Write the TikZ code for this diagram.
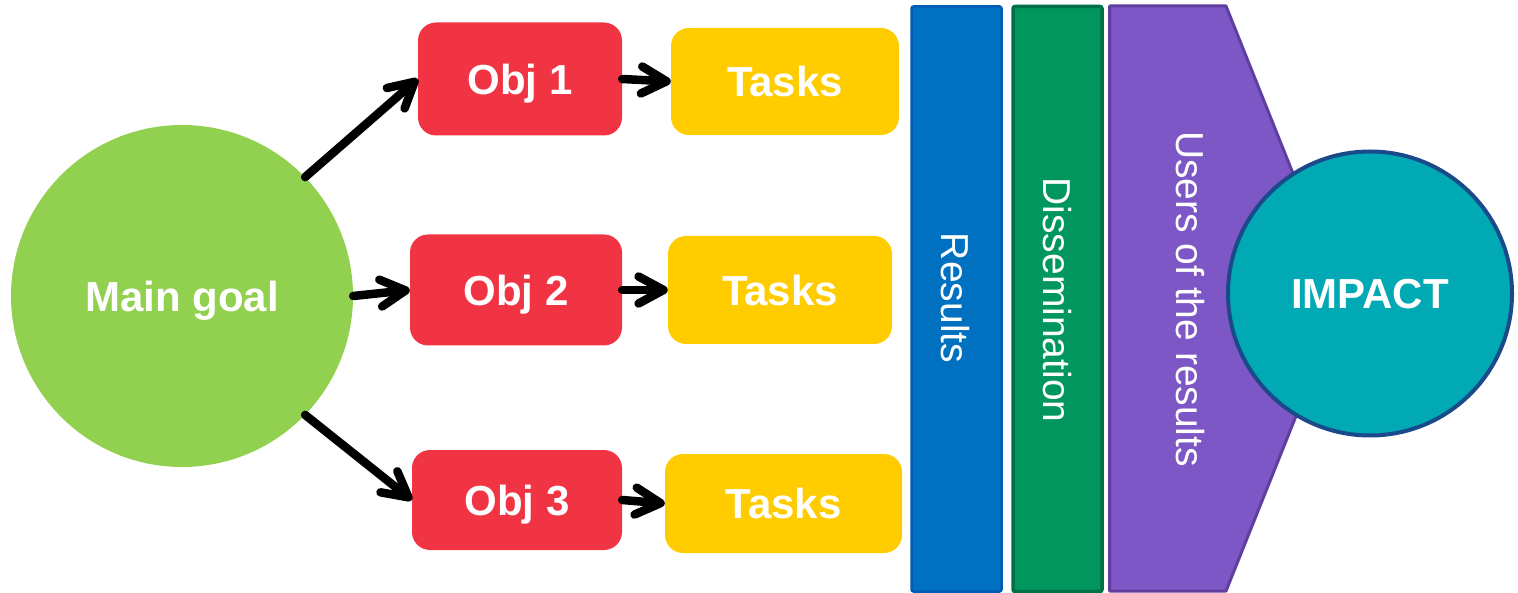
\documentclass[tikz,border=0pt]{standalone}
\usepackage{fontspec}
\setmainfont{Liberation Sans}
\usetikzlibrary{arrows.meta}
\definecolor{goalgreen}{HTML}{92D050}
\definecolor{objred}{HTML}{F03444}
\definecolor{taskyellow}{HTML}{FFCC00}
\definecolor{resblue}{HTML}{0070C0}
\definecolor{resblueb}{HTML}{005BB5}
\definecolor{disgreen}{HTML}{00965E}
\definecolor{disgreenb}{HTML}{00704A}
\definecolor{userpurple}{HTML}{7E57C6}
\definecolor{userpurpleb}{HTML}{5F3E9E}
\definecolor{impactteal}{HTML}{00A9B4}
\definecolor{impactb}{HTML}{1B4A8A}
\tikzset{
  bigtext/.style={text=white, font=\fontsize{42}{50}\selectfont\bfseries, text depth=0pt},
  bartext/.style={text=white, font=\fontsize{39}{46}\selectfont, rotate=-90},
  objbox/.style={bigtext, fill=objred, rounded corners=18pt, inner sep=0pt},
  taskbox/.style={bigtext, fill=taskyellow, rounded corners=18pt, inner sep=0pt},
  barbox/.style={rectangle, rounded corners=2pt, inner sep=0pt, minimum height=90pt, rotate=-90},
  conn/.style={line width=8.5pt, line cap=round, line join=round, -{Straight Barb[length=25pt,width=27pt,line cap=round,line join=round]}},
}
\begin{document}
\begin{tikzpicture}[x=1pt,y=-1pt]
\useasboundingbox (0,0) rectangle (1518,593);
% main goal
\node[circle, fill=goalgreen, minimum size=342pt, inner sep=0pt, bigtext] (main) at (182,296) {Main goal};
% objectives
\node[objbox, minimum width=204pt, minimum height=113pt] (obj1) at (520,79) {Obj 1};
\node[objbox, minimum width=212pt, minimum height=111pt] (obj2) at (516,290) {Obj 2};
\node[objbox, minimum width=210pt, minimum height=100pt] (obj3) at (517,500) {Obj 3};
% tasks
\node[taskbox, minimum width=228pt, minimum height=107pt] (task1) at (785,81.5) {Tasks};
\node[taskbox, minimum width=224pt, minimum height=108pt] (task2) at (780,290) {Tasks};
\node[taskbox, minimum width=237pt, minimum height=99pt] (task3) at (783.5,503.5) {Tasks};
% arrows
\draw[conn] (main.44) -- (obj1.west);
\draw[conn] (main.east) -- (obj2.west);
\draw[conn] (main.-44) -- (obj3.west);
\draw[conn] (obj1.east) -- (task1.west);
\draw[conn] (obj2.east) -- (task2.west);
\draw[conn] (obj3.east) -- (task3.west);
% bars
\node[barbox, fill=resblue, draw=resblueb, line width=2.5pt, minimum width=585pt, minimum height=90pt] (results) at (956.5,299) {};
\node[bartext] (resultstext) at (955,298) {Results};
\node[barbox, fill=disgreen, draw=disgreenb, line width=3.5pt, minimum width=585pt, minimum height=89pt] (dissem) at (1057.5,299) {};
\node[bartext] (dissemtext) at (1057,300) {Dissemination};
% users pentagon
\draw[fill=userpurple, draw=userpurpleb, line width=3pt, line join=round] (1109.5,6) -- (1226,6) -- (1343,298.5) -- (1226,591) -- (1109.5,591) -- cycle;
\node[bartext] (userstext) at (1190,299) {Users of the results};
% impact
\node[circle, fill=impactteal, draw=impactb, line width=4pt, minimum size=284pt, inner sep=0pt, bigtext] (impact) at (1370,293.5) {IMPACT};
\end{tikzpicture}
\end{document}
